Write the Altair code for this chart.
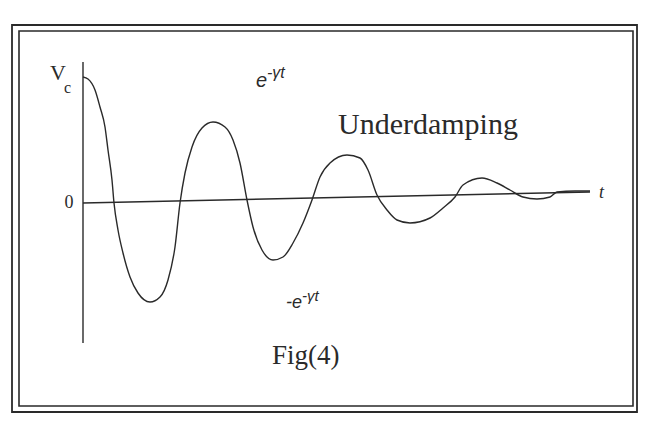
import altair as alt
import pandas as pd

# Underdamped capacitor voltage (t in px-like units, V_c upward)
t_vals = [0, 5, 12, 17, 22, 25, 29, 31, 35, 40, 47, 55, 67, 77, 85, 92, 97, 102, 109, 119,
          130, 142, 150, 157, 164, 170, 179, 190, 200, 210, 220, 229, 237, 247, 264, 277,
          285, 294, 304, 314, 327, 347, 360, 372, 380, 399, 414, 427, 440, 454, 467, 474,
          492, 507]
v_vals = [126, 124, 113, 96, 76, 53, 23, 0, -27, -50, -74, -90, -99, -94, -77, -44, 0, 30, 56, 75,
          81, 76, 63, 40, 3, -24, -47, -57, -54, -40, -20, 3, 26, 40, 48, 45,
          33, 8, -7, -17, -20, -15, -5, 6, 18, 25, 20, 13, 6, 4, 6, 11,
          12, 12]

# axes of the sketch
taxis_t = [0, 507]
taxis_v = [0, 11]
vaxis_t = [0, 0]
vaxis_v = [141, -140]

W, H = 630, 405
xs = alt.Scale(domain=[-75, W - 75], nice=False, zero=False)
ys = alt.Scale(domain=[195 - H, 195], nice=False, zero=False)

curve_df = pd.DataFrame({"t": t_vals, "v": v_vals})
taxis_df = pd.DataFrame({"t": taxis_t, "v": taxis_v})
vaxis_df = pd.DataFrame({"t": vaxis_t, "v": vaxis_v})

ink = "#2a2a2a"

curve = alt.Chart(curve_df).mark_line(color=ink, strokeWidth=1.4, interpolate="monotone").encode(
    x=alt.X("t:Q", scale=xs, axis=None),
    y=alt.Y("v:Q", scale=ys, axis=None),
)
taxis = alt.Chart(taxis_df).mark_line(color=ink, strokeWidth=1.4).encode(
    x=alt.X("t:Q", scale=xs, axis=None),
    y=alt.Y("v:Q", scale=ys, axis=None),
)
vaxis = alt.Chart(vaxis_df).mark_line(color=ink, strokeWidth=1.4).encode(
    x=alt.X("t:Q", scale=xs, axis=None),
    y=alt.Y("v:Q", scale=ys, axis=None),
)

one = pd.DataFrame({"a": [0]})

def frame(x1, x2, y1, y2, sw):
    return alt.Chart(one).mark_rect(fill=None, stroke=ink, strokeWidth=sw).encode(
        x=alt.value(x1), x2=alt.value(x2), y=alt.value(y1), y2=alt.value(y2)
    )

def label(text, x, y, size, font="Liberation Serif", style="normal", align="left", baseline="alphabetic"):
    return alt.Chart(one).mark_text(
        text=text, font=font, fontSize=size, fontStyle=style, color=ink,
        align=align, baseline=baseline,
    ).encode(x=alt.value(x), y=alt.value(y))

outer = frame(4, 629, 17, 404, 1.8)
inner = frame(11, 625, 23, 398, 1.6)

texts = [
    label("V", 42, 72, 22),
    label("c", 56, 85, 16),
    label("0", 61, 195, 18, align="center", baseline="middle"),
    label("e", 248, 79, 20, font="Liberation Sans", style="italic"),
    label("-γt", 259, 70, 16, font="Liberation Sans", style="italic"),
    label("-e", 278, 300, 18, font="Liberation Sans", style="italic"),
    label("-γt", 294, 293, 15, font="Liberation Sans", style="italic"),
    label("Underdamping", 330, 126, 30),
    label("Fig(4)", 264, 356, 27),
    label("t", 591, 190, 18, style="italic"),
]

chart = alt.layer(outer, inner, taxis, vaxis, curve, *texts).properties(
    width=W, height=H, padding=0, autosize="none", background="white"
).configure_view(stroke=None)

chart.save("out.html", embed_options={"renderer": "svg", "actions": False})
